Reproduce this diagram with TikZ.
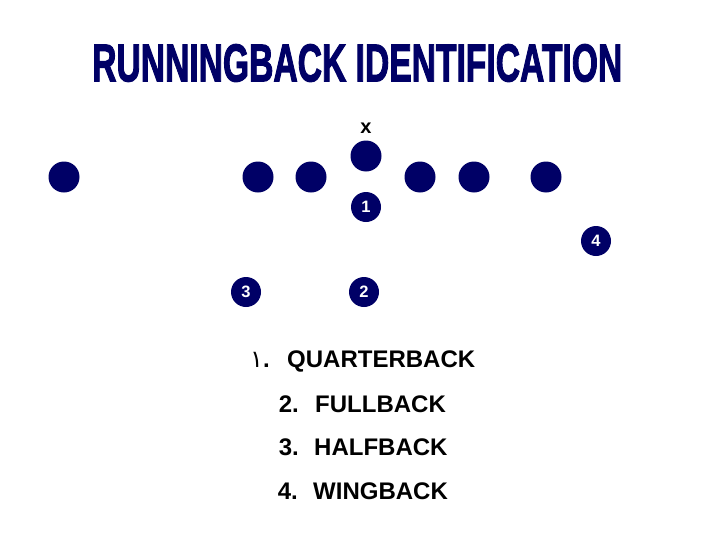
\documentclass[tikz,border=0pt]{standalone}
\usepackage{graphicx}
\usepackage{fontspec}
\setmainfont{Liberation Sans}
\newfontfamily\titlefont[FakeBold=2.5]{Liberation Sans Bold}
\newfontfamily\arabicfont[Script=Arabic]{DejaVu Sans}
\TeXXeTstate=1
\definecolor{navy}{RGB}{0,0,102}
\begin{document}
\begin{tikzpicture}[x=1pt,y=-1pt,
  player/.style={circle,fill=navy,draw=none,minimum size=31pt,inner sep=0pt},
  numbered/.style={circle,fill=navy,draw=none,minimum size=30pt,inner sep=0pt,text=white,font=\bfseries\fontsize{16.5}{16.5}\selectfont},
  word/.style={inner sep=0pt,anchor=base west,font=\bfseries\fontsize{24}{24}\selectfont},
  num/.style={inner sep=0pt,anchor=base east,font=\bfseries\fontsize{24}{24}\selectfont}]
\useasboundingbox[fill=white] (0,0) rectangle (728,546);
\node[inner sep=0pt,anchor=south west,text=navy] (title) at (92,82)
  {\resizebox{530pt}{37pt}{\titlefont RUNNINGBACK IDENTIFICATION}};
% line
\node[player] (p1) at (64,177) {};
\node[player] (p2) at (258,177) {};
\node[player] (p3) at (311,177) {};
\node[player] (c) at (366,156) {};
\node[player] (p4) at (420,177) {};
\node[player] (p5) at (474,177) {};
\node[player] (p6) at (546,177) {};
\node[inner sep=0pt,font=\bfseries\fontsize{20}{20}\selectfont] (x) at (366,128) {x};
% backs
\node[numbered] (b1) at (366,207) {1};
\node[numbered] (b2) at (364,292) {2};
\node[numbered] (b3) at (246,292) {3};
\node[numbered] (b4) at (596,241) {4};
% list
\node[num] (n1) at (270,367) {{\arabicfont\mdseries\beginR ١\endR}.};
\node[word] (w1) at (287,367) {QUARTERBACK};
\node[num] (n2) at (299,412) {2.};
\node[word] (w2) at (315,412) {FULLBACK};
\node[num] (n3) at (299,455.5) {3.};
\node[word] (w3) at (314,455.5) {HALFBACK};
\node[num] (n4) at (298,499) {4.};
\node[word] (w4) at (313,499) {WINGBACK};
\end{tikzpicture}
\end{document}
